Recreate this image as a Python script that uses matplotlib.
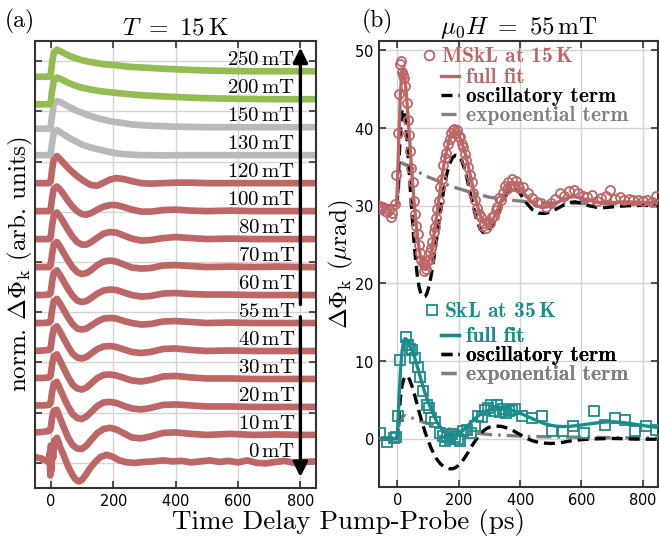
import matplotlib
matplotlib.use('Agg')
import matplotlib.pyplot as plt
from matplotlib.lines import Line2D

plt.rcParams['mathtext.fontset'] = 'cm'
plt.rcParams['font.family'] = ['cmr10', 'DejaVu Serif']
plt.rcParams['axes.formatter.use_mathtext'] = True

# ---------------- panel (a) data ----------------
fields = ['0', '10', '20', '30', '40', '55', '60', '70', '80', '100', '120', '130', '150', '200', '250']
t_a = [-50, -25, -5, 0, 5, 10, 20, 30, 40, 55, 70, 85, 100, 115, 130, 150, 170, 190, 210, 235,
       260, 290, 320, 360, 400, 450, 500, 575, 650, 725, 800, 850]
tr_250 = [-0.11, -0.11, -0.11, -0.08, 0.18, 0.36, 0.43, 0.40, 0.37, 0.32, 0.28, 0.25, 0.22, 0.20, 0.18,
          0.16, 0.14, 0.13, 0.12, 0.10, 0.085, 0.075, 0.065, 0.05, 0.04, 0.025, 0.015, 0.005, 0.0, 0.0, 0.0, 0.0]
tr_200 = [-0.105, -0.10, -0.10, -0.07, 0.18, 0.36, 0.43, 0.41, 0.38, 0.33, 0.29, 0.26, 0.23, 0.21, 0.19,
          0.17, 0.15, 0.14, 0.125, 0.11, 0.095, 0.08, 0.07, 0.055, 0.045, 0.03, 0.02, 0.01, 0.005, 0.0, 0.0, 0.0]
tr_150 = [-0.03, -0.03, -0.03, -0.01, 0.25, 0.45, 0.52, 0.50, 0.47, 0.42, 0.37, 0.32, 0.29, 0.25, 0.22,
          0.18, 0.15, 0.12, 0.10, 0.08, 0.055, 0.04, 0.03, 0.02, 0.01, 0.005, 0.0, 0.0, 0.0, 0.0, 0.0, 0.0]
tr_130 = [0.0, 0.0, 0.0, 0.02, 0.25, 0.44, 0.50, 0.46, 0.42, 0.36, 0.31, 0.26, 0.21, 0.18, 0.15,
          0.12, 0.09, 0.06, 0.04, 0.02, 0.01, 0.0, 0.0, -0.005, 0.0, 0.0, 0.0, 0.0, 0.0, 0.0, 0.0, 0.0]
tr_120 = [0.0, 0.0, 0.0, 0.03, 0.28, 0.47, 0.54, 0.48, 0.41, 0.31, 0.22, 0.14, 0.07, 0.01, -0.04,
          -0.05, 0.01, 0.07, 0.10, 0.08, 0.04, 0.0, -0.01, 0.0, 0.01, 0.01, 0.0, 0.0, 0.0, 0.0, 0.0, 0.0]
tr_100 = [0.0, 0.0, 0.0, 0.03, 0.27, 0.44, 0.49, 0.43, 0.35, 0.21, 0.09, 0.0, -0.06, -0.07, -0.04,
          0.03, 0.09, 0.12, 0.12, 0.08, 0.03, -0.01, -0.01, 0.02, 0.03, 0.01, 0.0, 0.01, 0.0, 0.0, 0.0, 0.0]
tr_80 = [0.0, 0.0, 0.0, 0.03, 0.28, 0.46, 0.53, 0.45, 0.35, 0.19, 0.05, -0.06, -0.11, -0.11, -0.06,
         0.03, 0.11, 0.14, 0.13, 0.07, 0.01, -0.03, -0.02, 0.02, 0.04, 0.02, 0.0, 0.01, 0.0, 0.0, 0.0, 0.0]
tr_70 = [0.0, 0.0, 0.0, 0.03, 0.27, 0.45, 0.50, 0.41, 0.30, 0.14, 0.0, -0.10, -0.14, -0.12, -0.06,
         0.04, 0.11, 0.13, 0.11, 0.05, -0.01, -0.03, -0.02, 0.03, 0.04, 0.02, 0.0, 0.01, 0.0, 0.01, 0.0, 0.0]
tr_60 = [0.0, 0.0, 0.01, 0.04, 0.27, 0.44, 0.49, 0.40, 0.29, 0.13, -0.01, -0.11, -0.14, -0.12, -0.06,
         0.03, 0.09, 0.11, 0.10, 0.05, 0.0, -0.03, -0.02, 0.03, 0.04, 0.02, 0.01, 0.01, 0.0, 0.0, 0.0, 0.0]
tr_55 = [0.0, 0.0, 0.01, 0.04, 0.27, 0.43, 0.48, 0.39, 0.28, 0.12, -0.02, -0.11, -0.13, -0.11, -0.05,
         0.03, 0.09, 0.10, 0.09, 0.04, 0.0, -0.03, -0.02, 0.03, 0.04, 0.02, 0.0, 0.01, 0.0, 0.0, 0.0, 0.0]
tr_40 = [0.0, 0.01, 0.02, 0.05, 0.28, 0.44, 0.49, 0.39, 0.27, 0.10, -0.05, -0.13, -0.15, -0.12, -0.05,
         0.04, 0.09, 0.10, 0.08, 0.03, -0.02, -0.04, -0.02, 0.04, 0.05, 0.02, 0.0, 0.01, 0.0, 0.0, 0.0, 0.0]
tr_30 = [0.02, 0.02, 0.03, 0.06, 0.30, 0.45, 0.49, 0.37, 0.24, 0.05, -0.11, -0.19, -0.21, -0.17, -0.09,
         0.02, 0.08, 0.09, 0.07, 0.02, -0.03, -0.05, -0.02, 0.05, 0.06, 0.03, 0.01, 0.01, 0.0, 0.0, 0.0, 0.0]
tr_20 = [0.03, 0.03, 0.04, 0.08, 0.30, 0.46, 0.50, 0.36, 0.22, 0.02, -0.14, -0.22, -0.24, -0.19, -0.10,
         0.02, 0.09, 0.10, 0.08, 0.02, -0.03, -0.05, -0.02, 0.04, 0.05, 0.03, 0.01, 0.01, 0.0, 0.0, 0.0, 0.0]
tr_10 = [0.05, 0.06, 0.08, 0.12, 0.35, 0.48, 0.50, 0.34, 0.18, -0.04, -0.20, -0.27, -0.28, -0.21, -0.10,
         0.04, 0.12, 0.14, 0.11, 0.03, -0.05, -0.07, -0.03, 0.04, 0.05, 0.02, 0.0, 0.02, 0.0, 0.01, 0.0, 0.0]
t_0mt = [-50, -40, -30, -20, -12, -6, -3, -1, 1, 3, 5, 8, 12, 16, 20, 25, 30, 40, 50, 60,
         70, 80, 90, 100, 110, 125, 140, 160, 180, 200, 220, 245, 270, 300, 330, 360, 390, 420, 450, 480,
         510, 540, 570, 600, 630, 660, 690, 720, 750, 780, 810, 850]
tr_0 = [0.12, 0.10, 0.09, 0.06, 0.05, 0.0, 0.20, -0.25, 0.35, -0.15, 0.30, 0.10, 0.45, 0.38, 0.50, 0.42, 0.32, 0.18, 0.02, -0.12,
        -0.24, -0.33, -0.37, -0.34, -0.26, -0.12, 0.0, 0.12, 0.16, 0.12, 0.05, 0.01, 0.0, 0.02, 0.03, 0.05, 0.03, 0.04, 0.01, 0.03,
        0.05, 0.02, 0.04, 0.01, 0.05, 0.0, -0.01, 0.02, 0.04, 0.0, 0.02, 0.03]
traces = [tr_0, tr_10, tr_20, tr_30, tr_40, tr_55, tr_60, tr_70, tr_80, tr_100, tr_120, tr_130, tr_150, tr_200, tr_250]
offset_step = 0.557

# ---------------- panel (b) data ----------------
t_fit_m = [-60, -20, -3, 0, 5, 10, 15, 20, 25, 30, 35, 40, 45, 50, 55, 60, 65, 70, 75, 80,
           85, 90, 95, 100, 105, 110, 115, 120, 125, 130, 140, 150, 160, 170, 180, 190, 200, 210, 220, 230,
           240, 250, 260, 270, 280, 290, 300, 310, 320, 330, 340, 350, 360, 370, 380, 390, 400, 420, 440, 460,
           480, 500, 520, 540, 560, 580, 600, 625, 650, 675, 700, 750, 800, 850]
fit_m = [30.0, 30.0, 30.0, 32.5, 39.0, 44.5, 47.4, 47.5, 46.2, 44.0, 41.3, 38.4, 35.5, 32.7, 30.2, 28.0, 26.2, 24.7, 23.5, 22.6,
         22.1, 21.9, 22.0, 22.5, 23.2, 24.1, 25.2, 26.5, 27.9, 29.3, 32.2, 34.9, 37.0, 38.5, 39.3, 39.5, 39.1, 38.2, 36.9, 35.3,
         33.5, 31.7, 30.1, 28.8, 27.9, 27.5, 27.6, 28.1, 28.9, 29.8, 30.8, 31.7, 32.4, 32.8, 32.9, 32.7, 32.3, 31.3, 30.4, 29.9,
         29.8, 30.0, 30.4, 30.8, 31.1, 31.15, 31.0, 30.7, 30.45, 30.35, 30.4, 30.5, 30.45, 30.4]
osc_m = [30.0, 30.0, 30.0, 30.8, 35.5, 39.8, 42.3, 42.4, 41.2, 39.2, 36.5, 33.5, 30.5, 27.6, 25.0, 22.8, 21.0, 19.7, 18.9, 18.4,
         18.25, 18.3, 18.6, 19.2, 20.0, 21.0, 22.2, 23.5, 24.9, 26.3, 29.2, 31.8, 33.9, 35.4, 36.2, 36.5, 36.4, 35.8, 34.6, 33.0,
         31.2, 29.5, 28.0, 27.0, 26.55, 26.5, 26.8, 27.5, 28.4, 29.4, 30.4, 31.2, 31.8, 32.1, 32.2, 32.0, 31.6, 30.4, 29.5, 29.05,
         29.0, 29.2, 29.6, 30.05, 30.4, 30.5, 30.35, 30.0, 29.8, 29.75, 29.85, 30.0, 30.05, 30.0]
t_exp_m = [-60, -3, 0, 5, 10, 15, 25, 50, 75, 100, 125, 150, 175, 200, 225, 250, 300, 350, 400, 450, 500, 600, 700, 850]
exp_m = [30.0, 30.0, 30.5, 33.0, 35.0, 35.5, 35.3, 34.8, 34.2, 33.7, 33.3, 32.9, 32.5, 32.2, 31.9, 31.6, 31.1, 30.8, 30.6,
         30.45, 30.35, 30.3, 30.25, 30.2]
t_msk = [-58, -52, -46, -40, -34, -28, -22, -16, -9, -3, 1, 4, 8, 11, 14, 18, 22, 26, 30, 34,
         38, 42, 46, 50, 54, 58, 62, 66, 70, 74, 78, 82, 86, 90, 94, 98, 102, 106, 110, 114,
         118, 122, 126, 130, 135, 140, 145, 150, 155, 160, 165, 170, 175, 180, 185, 190, 195, 200, 205, 210,
         215, 220, 225, 230, 236, 242, 248, 254, 260, 266, 272, 278, 284, 290, 296, 302, 308, 314, 320, 326,
         332, 338, 344, 350, 356, 362, 368, 374, 380, 386, 392, 398, 410, 425, 440, 455, 470, 485, 500, 515,
         530, 545, 560, 575, 590, 605, 620, 635, 650, 665, 680, 695, 710, 725, 740, 755, 770, 785, 800, 815,
         830, 845]
v_msk = [30.0, 29.6, 29.8, 29.3, 29.2, 29.5, 28.6, 29.1, 30.2, 33.9, 39.3, 44.4, 48.3, 48.6, 47.2, 46.8, 46.4, 45.4, 43.2, 41.0,
         39.1, 37.0, 34.8, 33.0, 30.6, 28.9, 27.4, 26.3, 25.0, 23.9, 23.0, 22.6, 21.6, 22.4, 21.8, 22.9, 23.0, 24.0, 24.5, 25.3,
         26.6, 27.2, 28.4, 29.6, 30.6, 32.4, 33.4, 35.2, 36.2, 36.8, 37.9, 38.6, 39.4, 39.8, 39.9, 39.3, 39.7, 38.8, 38.9, 38.0,
         37.6, 36.6, 35.9, 35.0, 33.9, 33.0, 31.6, 30.8, 29.7, 28.9, 28.5, 27.4, 27.8, 27.1, 27.9, 27.8, 28.6, 28.7, 29.4, 29.9,
         31.0, 30.8, 31.7, 32.5, 32.1, 33.1, 32.6, 33.4, 32.6, 33.2, 32.5, 32.3, 32.4, 31.6, 31.0, 30.5, 30.4, 29.9, 30.3, 30.9,
         31.6, 31.3, 31.9, 32.0, 31.6, 31.2, 31.1, 31.4, 30.6, 31.0, 31.3, 32.0, 30.9, 31.1, 30.8, 30.9, 30.7, 30.8, 30.6, 30.7,
         30.5, 31.3]

t_fit_s = [-60, -3, 0, 5, 10, 15, 20, 25, 30, 35, 40, 50, 60, 70, 80, 90, 100, 110, 120, 130,
           140, 150, 160, 170, 180, 190, 200, 210, 220, 230, 240, 250, 260, 270, 280, 290, 300, 320, 340, 360,
           380, 400, 420, 440, 460, 480, 500, 520, 540, 560, 580, 600, 625, 650, 675, 700, 725, 750, 775, 800,
           825, 850]
fit_s = [0.0, 0.0, 0.6, 5.0, 8.8, 11.2, 12.4, 12.9, 12.8, 12.4, 11.9, 11.2, 10.0, 8.6, 7.2, 5.9, 4.8, 3.8, 2.9, 2.1,
         1.5, 1.0, 0.6, 0.4, 0.35, 0.45, 0.65, 0.95, 1.3, 1.7, 2.1, 2.5, 2.85, 3.15, 3.4, 3.6, 3.72, 3.85, 3.88, 3.8,
         3.6, 3.3, 2.95, 2.6, 2.25, 1.95, 1.75, 1.62, 1.58, 1.6, 1.68, 1.78, 1.92, 2.05, 2.15, 2.2, 2.15, 2.02, 1.87, 1.72,
         1.58, 1.47]
osc_s = [0.0, 0.0, 0.3, 3.0, 5.3, 6.8, 7.6, 8.0, 8.1, 8.0, 7.6, 6.5, 5.1, 3.6, 2.2, 0.9, -0.2, -1.2, -2.0, -2.7,
         -3.2, -3.55, -3.75, -3.85, -3.85, -3.7, -3.4, -3.0, -2.4, -1.8, -1.1, -0.5, 0.1, 0.6, 1.0, 1.3, 1.5, 1.65, 1.6, 1.35,
         1.0, 0.55, 0.1, -0.25, -0.45, -0.55, -0.6, -0.55, -0.45, -0.3, -0.2, -0.1, -0.05, 0.0, 0.03, 0.05, 0.03, 0.0, -0.03, -0.05,
         -0.05, -0.05]
t_exp_s = [-60, -3, 0, 5, 10, 15, 20, 30, 40, 60, 80, 100, 125, 150, 175, 200, 250, 300, 350, 400, 500, 600, 700, 850]
exp_s = [0.0, 0.0, 0.4, 1.8, 2.6, 2.9, 3.0, 2.95, 2.8, 2.5, 2.2, 1.95, 1.65, 1.4, 1.2, 1.0, 0.75, 0.55, 0.45, 0.35,
         0.25, 0.2, 0.15, 0.1]
t_skl = [-58, -33, -12, -3, 2, 8, 27, 33, 40, 48, 57, 66, 73, 84, 95, 104, 111, 122, 139, 150,
         155, 163, 170, 178, 188, 197, 204, 215, 226, 240, 252, 264, 275, 285, 295, 305, 315, 325, 335, 345,
         355, 365, 375, 385, 406, 439, 472, 505, 541, 574, 608, 641, 677, 710, 743, 776, 811, 843]
v_skl = [0.8, -0.4, 0.1, 0.2, 3.0, 10.2, 13.1, 12.1, 11.6, 11.4, 10.4, 9.2, 7.9, 6.1, 4.4, 4.0, 2.7, 2.2, 0.8, 0.4,
         -0.3, 0.2, 0.0, 0.6, 0.2, 0.0, -0.3, 1.0, 1.1, 0.8, 1.6, 2.9, 2.8, 3.7, 4.0, 4.3, 3.6, 4.3, 3.4, 3.8,
         3.3, 3.6, 3.7, 3.9, 2.9, 2.7, 2.9, 1.0, 0.95, 1.6, 0.7, 3.6, 1.8, 2.7, 2.4, 1.0, 1.6, 1.2]

# ---------------- styles ----------------
RED = '#bc6666'
GREEN = '#93bd52'
GRAY = '#b9b9b9'
TEAL = '#1b8c8c'
EXPG = '#7f7f7f'
SPINE = '#333333'
DASH = (0, (3.3, 1.8))
DASHDOT = (0, (4.5, 1.8, 0.8, 1.8))

W, H = 659, 538
fig = plt.figure(figsize=(W / 100, H / 100), dpi=100)


def px_axes(x0, y0, x1, y1):
    return [x0 / W, 1 - y1 / H, (x1 - x0) / W, (y1 - y0) / H]


axa = fig.add_axes(px_axes(35, 41, 316, 488))
axb = fig.add_axes(px_axes(379, 41, 658, 487))

for ax in (axa, axb):
    ax.tick_params(direction='in', top=True, right=True, length=5, width=1.2, color=SPINE,
                   labelsize=10.5, labelfontfamily='DejaVu Sans', pad=3.5)
    for s in ax.spines.values():
        s.set_linewidth(1.5)
        s.set_color(SPINE)
    ax.grid(True, color='#d4d4d4', lw=1.0)
    ax.set_axisbelow(True)

# ---- panel (a)
for i, (f, tr) in enumerate(zip(fields, traces)):
    off = i * offset_step
    if f in ('200', '250'):
        c = GREEN
    elif f in ('130', '150'):
        c = GRAY
    else:
        c = RED
    tt = t_0mt if f == '0' else t_a
    axa.plot(tt, [v + off for v in tr], color=c, lw=4.8, solid_capstyle='round', solid_joinstyle='round')
    axa.text(783, off + 0.22, r'$%s\,\mathrm{mT}$' % f, ha='right', va='center', fontsize=15)

i55 = fields.index('55')
axa.annotate('', xy=(800, (len(fields) - 1) * offset_step + 0.47), xytext=(800, i55 * offset_step + 0.37),
             arrowprops=dict(arrowstyle='-|>', lw=2.4, color='k', mutation_scale=22, shrinkA=0, shrinkB=0))
axa.annotate('', xy=(800, -0.28), xytext=(800, i55 * offset_step + 0.125),
             arrowprops=dict(arrowstyle='-|>', lw=2.4, color='k', mutation_scale=22, shrinkA=0, shrinkB=0))

axa.set_xlim(-50, 850)
axa.set_ylim(-0.5, 8.4)
axa.set_xticks([0, 200, 400, 600, 800])
axa.set_yticks(range(0, 9))
axa.set_yticklabels([])
axa.set_title(r'$T\ =\ 15\,\mathrm{K}$', fontsize=18, pad=5)

# ---- panel (b)
axb.plot(t_exp_m, exp_m, color=EXPG, ls=DASHDOT, lw=2.4, zorder=3)
axb.plot(t_fit_m, osc_m, color='k', ls=DASH, lw=2.4, zorder=3)
axb.plot(t_fit_m, fit_m, color=RED, lw=2.4, zorder=4)
axb.plot(t_msk, v_msk, ls='none', marker='o', mfc='none', mec=RED, ms=6.5, mew=1.3, zorder=5)

axb.plot(t_exp_s, exp_s, color=EXPG, ls=DASHDOT, lw=2.4, zorder=3)
axb.plot(t_fit_s, osc_s, color='k', ls=DASH, lw=2.4, zorder=3)
axb.plot(t_fit_s, fit_s, color=TEAL, lw=2.4, zorder=4)
axb.plot(t_skl, v_skl, ls='none', marker='s', mfc='none', mec=TEAL, ms=6.5, mew=1.3, zorder=5)

axb.set_xlim(-60, 850)
axb.set_ylim(-6.2, 51.2)
axb.set_xticks([0, 200, 400, 600, 800])
axb.set_yticks([0, 10, 20, 30, 40, 50])
axb.set_title(r'$\mu_0 H\ =\ 55\,\mathrm{mT}$', fontsize=18, pad=5)

legprop = {'family': 'cmb10', 'size': 15.5}


def add_leg(handles, labels, colors, x_px, y_px, hl):
    bx = (x_px - 379) / (658 - 379)
    by = (487 - y_px) / (487 - 41)
    leg = axb.legend(handles, labels, loc='upper left', bbox_to_anchor=(bx, by), frameon=False,
                     handlelength=hl, handletextpad=0.3, borderpad=0, borderaxespad=0,
                     labelspacing=0.0, prop=legprop, labelcolor=colors)
    axb.add_artist(leg)
    return leg


add_leg([Line2D([], [], ls='none', marker='o', mfc='none', mec=RED, ms=7, mew=1.3)],
        [r'MSkL at 15$\,$K'], [RED], 424, 47, 0.5)
add_leg([Line2D([], [], color=RED, lw=2.4),
         Line2D([], [], color='k', lw=2.4, ls=DASH),
         Line2D([], [], color=EXPG, lw=2.4, ls=DASHDOT)],
        ['full fit', 'oscillatory term', 'exponential term'], [RED, 'k', EXPG], 441, 68, 0.85)
add_leg([Line2D([], [], ls='none', marker='s', mfc='none', mec=TEAL, ms=7, mew=1.3)],
        [r'SkL at 35$\,$K'], [TEAL], 427, 302, 0.5)
add_leg([Line2D([], [], color=TEAL, lw=2.4),
         Line2D([], [], color='k', lw=2.4, ls=DASH),
         Line2D([], [], color=EXPG, lw=2.4, ls=DASHDOT)],
        ['full fit', 'oscillatory term', 'exponential term'], [TEAL, 'k', EXPG], 441, 327, 0.85)

# ---- figure texts
fig.text(5 / W, 1 - 21 / H, '(a)', fontsize=17, va='center', ha='left')
fig.text(362 / W, 1 - 21 / H, '(b)', fontsize=17, va='center', ha='left')
fig.text(348 / W, 1 - 523 / H, 'Time Delay Pump-Probe (ps)', fontsize=19.5, ha='center', va='center')
fig.text(20 / W, 1 - 264 / H, r'norm. $\Delta\Phi_\mathrm{k}$ (arb. units)', fontsize=18,
         rotation=90, ha='center', va='center')
fig.text(341 / W, 1 - 264 / H, r'$\Delta\Phi_\mathrm{k}$ ($\mu$rad)', fontsize=18,
         rotation=90, ha='center', va='center')

fig.savefig('out.png', dpi=100)
